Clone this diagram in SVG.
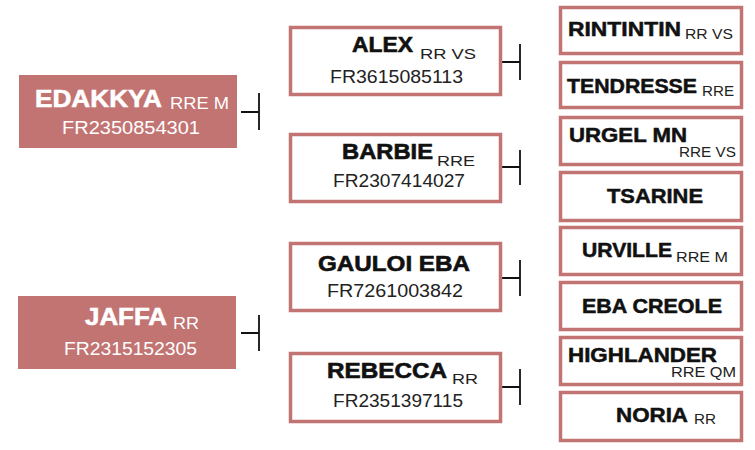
<svg xmlns="http://www.w3.org/2000/svg" width="755" height="450" viewBox="0 0 755 450">
<style>
.bg{fill:#ffffff}
.fbox{fill:#c27473;stroke:none}
.obox{fill:#ffffff;stroke:#c27473;stroke-width:3.5}
.conn{stroke:#111111;stroke-width:1.8;fill:none}
text{font-family:"Liberation Sans",Arial,sans-serif}
.nl{font-size:24px;font-weight:700;fill:#ffffff;stroke:#ffffff;stroke-width:0.6}
.sl{font-size:16.5px;font-weight:400;fill:#ffffff}
.idl{font-size:19px;font-weight:400;fill:#ffffff}
.nm{font-size:22px;font-weight:700;fill:#111111;stroke:#111111;stroke-width:0.6}
.sm{font-size:15px;font-weight:400;fill:#222222}
.idm{font-size:18px;font-weight:400;fill:#222222}
.nr{font-size:19.5px;font-weight:700;fill:#111111;stroke:#111111;stroke-width:0.5}
.sr{font-size:14.5px;font-weight:400;fill:#222222}
</style>
<rect class="bg" x="0" y="0" width="755" height="450"/>
<g id="connectors">
<path class="conn" d="M241 112H259M259 93V130"/>
<path class="conn" d="M241 333H259M259 315V351"/>
<path class="conn" d="M502 62H520M520 44V80"/>
<path class="conn" d="M502 167H520M520 150V185"/>
<path class="conn" d="M502 278H520M520 260V296"/>
<path class="conn" d="M502 387H520M520 369V405"/>
</g>
<g id="edakkya">
<rect class="fbox" x="19" y="75" width="218" height="73"/>
<text class="nl" x="35" y="107" textLength="127" lengthAdjust="spacingAndGlyphs">EDAKKYA</text>
<text class="sl" x="170" y="109" textLength="59" lengthAdjust="spacingAndGlyphs">RRE M</text>
<text class="idl" x="62" y="134" textLength="138" lengthAdjust="spacingAndGlyphs">FR2350854301</text>
</g>
<g id="jaffa">
<rect class="fbox" x="18" y="296" width="218" height="73"/>
<text class="nl" x="85" y="325" textLength="82" lengthAdjust="spacingAndGlyphs">JAFFA</text>
<text class="sl" x="173" y="329" textLength="26" lengthAdjust="spacingAndGlyphs">RR</text>
<text class="idl" x="64" y="355" textLength="133" lengthAdjust="spacingAndGlyphs">FR2315152305</text>
</g>
<g id="alex">
<rect class="obox" x="290.5" y="27.5" width="210" height="67"/>
<text class="nm" x="352" y="52" textLength="61" lengthAdjust="spacingAndGlyphs">ALEX</text>
<text class="sm" x="420" y="59" textLength="56" lengthAdjust="spacingAndGlyphs">RR VS</text>
<text class="idm" x="330" y="83" textLength="133" lengthAdjust="spacingAndGlyphs">FR3615085113</text>
</g>
<g id="barbie">
<rect class="obox" x="290.5" y="134.5" width="210" height="67"/>
<text class="nm" x="342" y="159" textLength="91" lengthAdjust="spacingAndGlyphs">BARBIE</text>
<text class="sm" x="437" y="166" textLength="38" lengthAdjust="spacingAndGlyphs">RRE</text>
<text class="idm" x="333" y="187" textLength="132" lengthAdjust="spacingAndGlyphs">FR2307414027</text>
</g>
<g id="gauloi-eba">
<rect class="obox" x="290.5" y="243.5" width="210" height="67"/>
<text class="nm" x="318" y="271" textLength="152" lengthAdjust="spacingAndGlyphs">GAULOI EBA</text>
<text class="idm" x="327" y="297" textLength="136" lengthAdjust="spacingAndGlyphs">FR7261003842</text>
</g>
<g id="rebecca">
<rect class="obox" x="290.5" y="353.5" width="210" height="68"/>
<text class="nm" x="327" y="378" textLength="120" lengthAdjust="spacingAndGlyphs">REBECCA</text>
<text class="sm" x="452" y="384" textLength="26" lengthAdjust="spacingAndGlyphs">RR</text>
<text class="idm" x="333" y="407" textLength="130" lengthAdjust="spacingAndGlyphs">FR2351397115</text>
</g>
<g id="rintintin">
<rect class="obox" x="560.5" y="7.5" width="181" height="46"/>
<text class="nr" x="568" y="36" textLength="113" lengthAdjust="spacingAndGlyphs">RINTINTIN</text>
<text class="sr" x="685" y="39" textLength="48" lengthAdjust="spacingAndGlyphs">RR VS</text>
</g>
<g id="tendresse">
<rect class="obox" x="560.5" y="62.5" width="181" height="45"/>
<text class="nr" x="567" y="93" textLength="130" lengthAdjust="spacingAndGlyphs">TENDRESSE</text>
<text class="sr" x="702" y="96" textLength="32" lengthAdjust="spacingAndGlyphs">RRE</text>
</g>
<g id="urgel-mn">
<rect class="obox" x="560.5" y="117.5" width="181" height="47"/>
<text class="nr" x="569" y="142" textLength="118" lengthAdjust="spacingAndGlyphs">URGEL MN</text>
<text class="sr" x="679" y="157" textLength="57" lengthAdjust="spacingAndGlyphs">RRE VS</text>
</g>
<g id="tsarine">
<rect class="obox" x="560.5" y="172.5" width="181" height="48"/>
<text class="nr" x="607" y="203" textLength="96" lengthAdjust="spacingAndGlyphs">TSARINE</text>
</g>
<g id="urville">
<rect class="obox" x="560.5" y="227.5" width="181" height="47"/>
<text class="nr" x="582" y="257" textLength="90" lengthAdjust="spacingAndGlyphs">URVILLE</text>
<text class="sr" x="676" y="262" textLength="52" lengthAdjust="spacingAndGlyphs">RRE M</text>
</g>
<g id="eba-creole">
<rect class="obox" x="560.5" y="282.5" width="181" height="47"/>
<text class="nr" x="582" y="313" textLength="140" lengthAdjust="spacingAndGlyphs">EBA CREOLE</text>
</g>
<g id="highlander">
<rect class="obox" x="560.5" y="337.5" width="181" height="47"/>
<text class="nr" x="568" y="362" textLength="149" lengthAdjust="spacingAndGlyphs">HIGHLANDER</text>
<text class="sr" x="671" y="377" textLength="65" lengthAdjust="spacingAndGlyphs">RRE QM</text>
</g>
<g id="noria">
<rect class="obox" x="560.5" y="392.5" width="181" height="48"/>
<text class="nr" x="616" y="422" textLength="72" lengthAdjust="spacingAndGlyphs">NORIA</text>
<text class="sr" x="694" y="424" textLength="22" lengthAdjust="spacingAndGlyphs">RR</text>
</g>
</svg>
